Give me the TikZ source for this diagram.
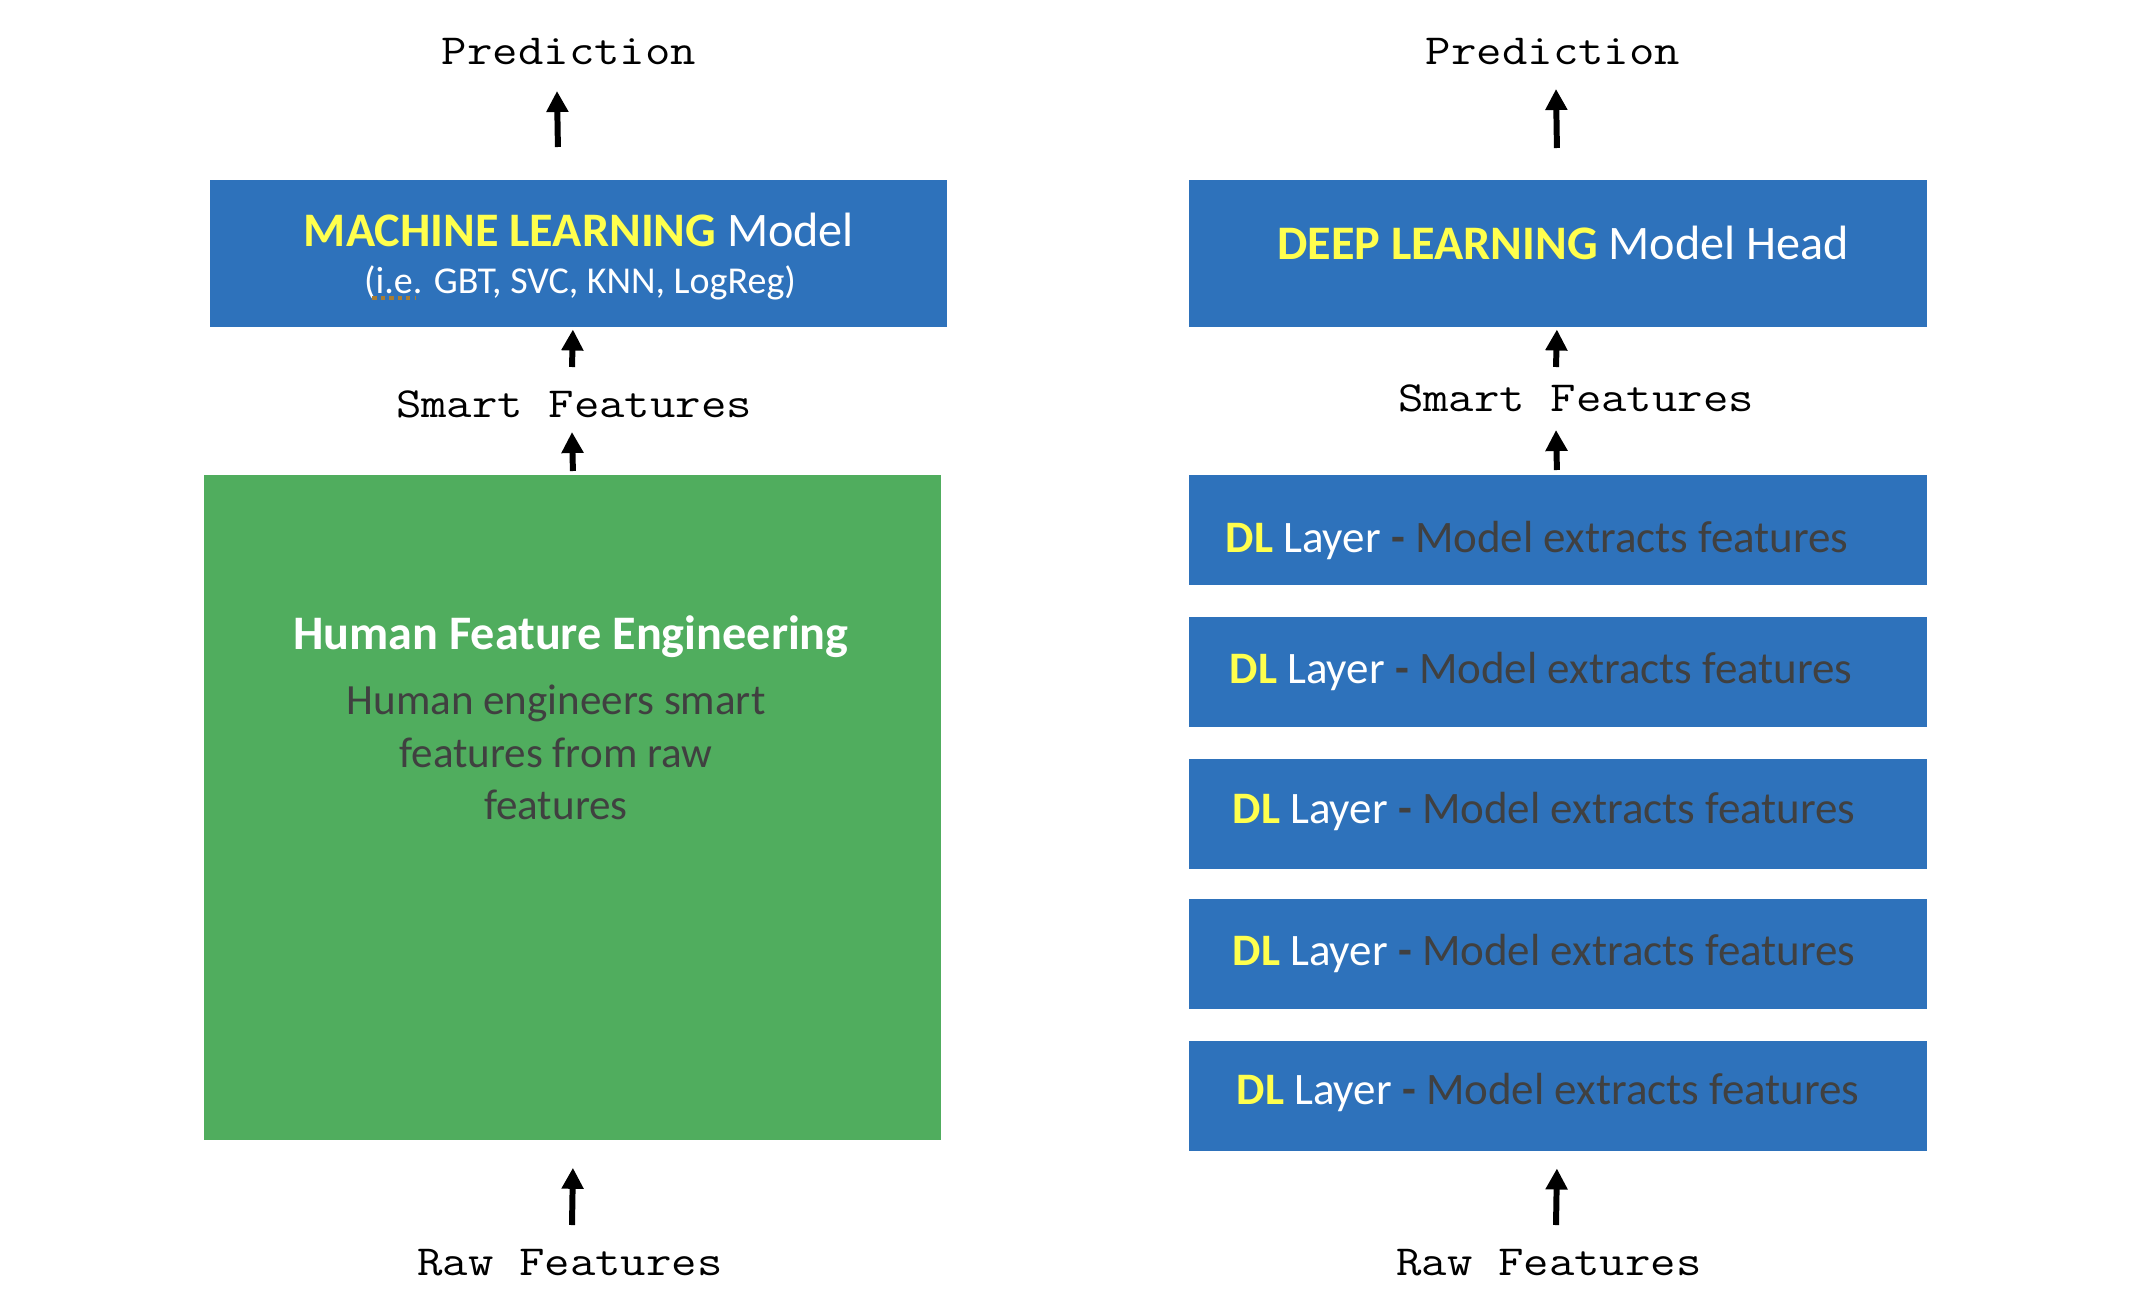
\documentclass[tikz,border=0pt]{standalone}
\usepackage{fontspec}
\setmainfont{Carlito}
\newfontfamily\monof[FakeStretch=1.15]{Latin Modern Mono}
\usetikzlibrary{arrows.meta,calc}
\definecolor{boxblue}{RGB}{46,114,187}
\definecolor{boxgreen}{RGB}{80,173,94}
\definecolor{hlyellow}{RGB}{255,255,77}
\definecolor{txtgray}{RGB}{64,64,64}
\definecolor{squiggle}{RGB}{170,125,50}
\tikzset{
  monolabel/.style={font=\monof\fontsize{12.2pt}{14pt}\selectfont, text=black, inner sep=0pt, anchor=base},
  bluebox/.style={fill=boxblue, draw=none, inner sep=0pt, anchor=north west, minimum width=7.38cm},
  greenbox/.style={fill=boxgreen, draw=none, inner sep=0pt, anchor=north west, minimum width=7.37cm},
  titletext/.style={font=\fontsize{13.7pt}{16pt}\selectfont, text=white, inner sep=0pt, anchor=base},
  subtext/.style={font=\fontsize{10.8pt}{13pt}\selectfont, text=white, inner sep=0pt, anchor=base},
  bodytext/.style={font=\fontsize{12.25pt}{15pt}\selectfont, text=txtgray, inner sep=0pt, anchor=base},
  layertext/.style={font=\fontsize{12.8pt}{15pt}\selectfont, text=white, inner sep=0pt, anchor=base west},
  arr/.style={line width=1.7pt, draw=black, -{Triangle[width=0.21cm,length=0.21cm]}},
  spellmark/.style={draw=squiggle, line width=1.2pt, dash pattern=on 1.2pt off 1.2pt}
}
\newcommand{\dllabel}{\textbf{\color{hlyellow}DL} Layer {\color{txtgray}\textbf{-} Model extracts features}}
\begin{document}
\begin{tikzpicture}[x=0.01cm,y=-0.01cm]
\fill[white] (0,0) rectangle (2146,1294);
\useasboundingbox (0,0) rectangle (2146,1294);

% ---------- left column ----------
\node[monolabel] (predL) at (569,65) {Prediction};
\node[bluebox, minimum width=7.37cm, minimum height=1.47cm] (ml) at (209,179) {};
\node[titletext] (mlT1) at (579,246) {\textbf{\color{hlyellow}MACHINE LEARNING} Model};
\node[subtext] (mlT2) at (580,293) {(i.e. GBT, SVC, KNN, LogReg)};
\draw[spellmark] ($(mlT2.base west)+(9,5)$) -- ($(mlT2.base west)+(53,5)$);
\node[monolabel] (smartL) at (574,417) {Smart Features};
\node[greenbox, minimum height=6.65cm] (green) at (203,474) {};
\node[titletext] (hfeT) at (571,649) {\textbf{Human Feature Engineering}};
\node[bodytext] (hfe1) at (556,714) {Human engineers smart};
\node[bodytext] (hfe2) at (556,767) {features from raw};
\node[bodytext] (hfe3) at (556,819) {features};
\node[monolabel] (rawL) at (570,1275) {Raw Features};

\draw[arr] ($(ml.north)+(-20.5,-32)$) -- ($(predL.base)+(-12,26)$);
\draw[arr] ($(smartL.base)+(-2,-50)$) -- ($(ml.south)+(-5.5,2)$);
\draw[arr] ($(green.north)+(0.5,-3)$) -- ($(smartL.base)+(-2,15)$);
\draw[arr] ($(rawL.base)+(2,-50)$) -- ($(green.south)+(0.5,27)$);

% ---------- right column ----------
\node[monolabel] (predR) at (1553,65) {Prediction};
\node[bluebox, minimum height=1.47cm] (head) at (1188,179) {};
\node[titletext] (headT) at (1563,259) {\textbf{\color{hlyellow}DEEP LEARNING} Model Head};
\node[monolabel] (smartR) at (1576,411) {Smart Features};
\node[bluebox, minimum height=1.10cm] (dl1) at (1188,474) {};
\node[bluebox, minimum height=1.10cm] (dl2) at (1188,616) {};
\node[bluebox, minimum height=1.10cm] (dl3) at (1188,758) {};
\node[bluebox, minimum height=1.10cm] (dl4) at (1188,898) {};
\node[bluebox, minimum height=1.10cm] (dl5) at (1188,1040) {};
\node[layertext] (dl1T) at (1225,552) {\dllabel};
\node[layertext] (dl2T) at (1229,683) {\dllabel};
\node[layertext] (dl3T) at (1232,823) {\dllabel};
\node[layertext] (dl4T) at (1232,965) {\dllabel};
\node[layertext] (dl5T) at (1236,1104) {\dllabel};
\node[monolabel] (rawR) at (1549,1275) {Raw Features};

\draw[arr] ($(head.north)+(-1,-31)$) -- ($(predR.base)+(3,24)$);
\draw[arr] ($(smartR.base)+(-20,-44)$) -- ($(head.south)+(-1,2)$);
\draw[arr] ($(dl1.north)+(-1,-4)$) -- ($(smartR.base)+(-20,19)$);
\draw[arr] ($(rawR.base)+(7,-50)$) -- ($(dl5.south)+(-1,17)$);
\end{tikzpicture}
\end{document}
